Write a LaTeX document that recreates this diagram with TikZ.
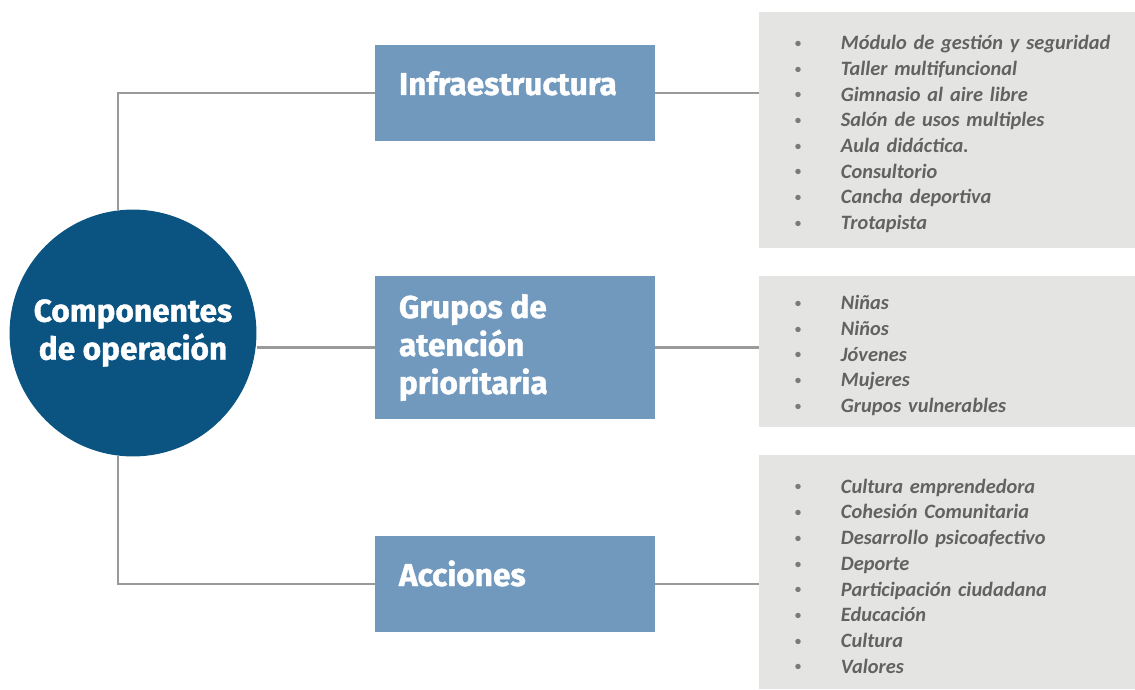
\documentclass[tikz,border=0pt]{standalone}
\usepackage{fontspec}
\setmainfont{Fira Sans}
\newfontfamily\heavyfont{Fira Sans}[BoldFeatures={FakeBold=1.2}]
\newfontfamily\listfont{Carlito}
\usetikzlibrary{positioning,calc}

\definecolor{hubblue}{HTML}{0B5482}
\definecolor{catblue}{HTML}{7199BE}
\definecolor{listgray}{HTML}{E4E4E2}
\definecolor{linkgray}{HTML}{9A9A9A}
\definecolor{itemgray}{HTML}{626262}
\definecolor{dotgray}{HTML}{7A7A7A}

\newcommand{\itm}[1]{\mbox{\makebox[1.15cm][l]{\raisebox{1.6pt}{\fontsize{9}{9}\selectfont\color{dotgray}\textbullet}}#1}}

\begin{document}
\begin{tikzpicture}[x=0.025cm, y=-0.025cm,
  hub/.style={circle, fill=hubblue, minimum size=6.17cm, inner sep=0pt, text=white,
    align=center, font=\heavyfont\fontsize{22.5}{27}\selectfont\bfseries},
  catbox/.style={rectangle, fill=catblue, minimum width=7cm, inner sep=0pt},
  cattext/.style={inner sep=0pt, text=white, align=left,
    font=\heavyfont\fontsize{22.5}{27}\selectfont\bfseries},
  listbox/.style={rectangle, fill=listgray, text width=7.6cm, inner xsep=0.9cm,
    inner ysep=0pt, align=left, text=itemgray,
    font=\listfont\fontsize{14.5}{18.3}\selectfont\bfseries\itshape,
    execute at begin node=\rule{0pt}{16pt}},
  link/.style={draw=linkgray, line width=1.7pt}]

\useasboundingbox (0,0) rectangle (1135,689);

% centre and the three component boxes
\node[hub] (comp) at (133,333) {Componentes\\de operación};
\node[catbox, minimum height=2.39cm] (infra) at (515,93) {};
\node[catbox, minimum height=3.57cm] (grupos) at (515,347.5) {};
\node[catbox, minimum height=2.39cm] (acc) at (515,584) {};

\node[cattext, anchor=base west] (infraT) at ($(infra.west)+(24,2)$) {Infraestructura};
\node[cattext, anchor=west] (gruposT) at ($(grupos.west)+(24,0)$) {Grupos de\\atención\\prioritaria};
\node[cattext, anchor=base west] (accT) at ($(acc.west)+(24,2)$) {Acciones};

% gray lists on the right
\node[listbox, minimum height=5.9cm] (infraL) at (947,130) {%
  \itm{Módulo de gestión y seguridad}\\
  \itm{Taller multifuncional}\\
  \itm{Gimnasio al aire libre}\\
  \itm{Salón de usos multiples}\\
  \itm{Aula didáctica.}\\
  \itm{Consultorio}\\
  \itm{Cancha deportiva}\\
  \itm{Trotapista}};
\node[listbox, minimum height=3.775cm] (gruposL) at (947,351.5) {%
  \itm{Niñas}\\
  \itm{Niños}\\
  \itm{Jóvenes}\\
  \itm{Mujeres}\\
  \itm{Grupos vulnerables}};
\node[listbox, minimum height=5.85cm] (accL) at (947,572) {%
  \itm{Cultura emprendedora}\\
  \itm{Cohesión Comunitaria}\\
  \itm{Desarrollo psicoafectivo}\\
  \itm{Deporte}\\
  \itm{Participación ciudadana}\\
  \itm{Educación}\\
  \itm{Cultura}\\
  \itm{Valores}};

% connectors
\draw[link] (comp.97) |- (infra.west);
\draw[link] (grupos.west -| comp.east) -- (grupos.west);
\draw[link] (comp.263) |- (acc.west);
\draw[link] (infra.east) -- (infra.east -| infraL.west);
\draw[link] (grupos.east) -- (grupos.east -| gruposL.west);
\draw[link] (acc.east) -- (acc.east -| accL.west);

\end{tikzpicture}
\end{document}
